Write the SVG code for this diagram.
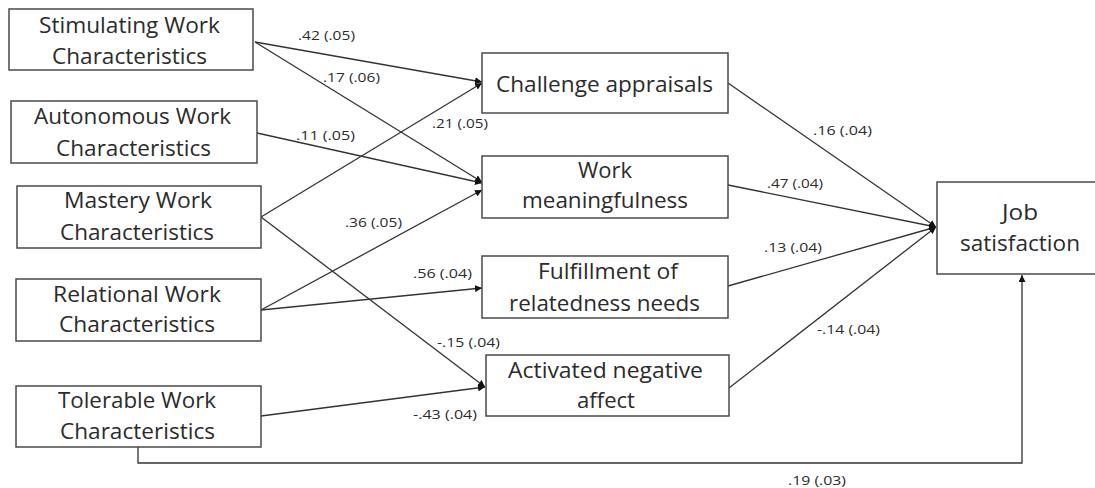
<svg xmlns="http://www.w3.org/2000/svg" width="1095" height="488" viewBox="0 0 1095 488">
<style>
.box{fill:#fff;stroke:#4a4a4a;stroke-width:1.5}
.nt{font-family:"Open Sans","Noto Sans","DejaVu Sans",sans-serif;font-size:21px;fill:#2b2b2b}
.lb{font-family:"Open Sans","Noto Sans","DejaVu Sans",sans-serif;font-size:13.5px;fill:#2b2b2b}
.ln{fill:none;stroke:#333;stroke-width:1.3}
</style>
<defs>
<marker id="ah" markerUnits="userSpaceOnUse" markerWidth="8" markerHeight="7" refX="7" refY="3.5" orient="auto">
<path d="M0,0 L7,3.5 L0,7 z" fill="#111"/>
</marker>
</defs>
<rect width="1095" height="488" fill="#fff"/>
<g id="connectors">
<path class="ln" d="M255,42 L482,82" marker-end="url(#ah)"/>
<path class="ln" d="M255,42 L482,182" marker-end="url(#ah)"/>
<path class="ln" d="M257,133 L482,183" marker-end="url(#ah)"/>
<path class="ln" d="M261,217 L482,83" marker-end="url(#ah)"/>
<path class="ln" d="M261,217 L485,387" marker-end="url(#ah)"/>
<path class="ln" d="M261,310 L482,190" marker-end="url(#ah)"/>
<path class="ln" d="M261,310 L482,288" marker-end="url(#ah)"/>
<path class="ln" d="M261,416 L485,387" marker-end="url(#ah)"/>
<path class="ln" d="M728,83 L936,227" marker-end="url(#ah)"/>
<path class="ln" d="M728,185 L936,227" marker-end="url(#ah)"/>
<path class="ln" d="M728,286 L936,227" marker-end="url(#ah)"/>
<path class="ln" d="M729,388 L936,227" marker-end="url(#ah)"/>
<path class="ln" d="M138,447 L138,463 L1022,463 L1022,275" marker-end="url(#ah)"/>
</g>
<g id="labels">
<text class="lb" x="298" y="40" textLength="57" lengthAdjust="spacingAndGlyphs">.42 (.05)</text>
<text class="lb" x="323" y="82" textLength="57" lengthAdjust="spacingAndGlyphs">.17 (.06)</text>
<text class="lb" x="432" y="128" textLength="56" lengthAdjust="spacingAndGlyphs">.21 (.05)</text>
<text class="lb" x="296" y="140" textLength="59" lengthAdjust="spacingAndGlyphs">.11 (.05)</text>
<text class="lb" x="345" y="227" textLength="57" lengthAdjust="spacingAndGlyphs">.36 (.05)</text>
<text class="lb" x="413" y="278" textLength="59" lengthAdjust="spacingAndGlyphs">.56 (.04)</text>
<text class="lb" x="437" y="347" textLength="63" lengthAdjust="spacingAndGlyphs">-.15 (.04)</text>
<text class="lb" x="413" y="419" textLength="64" lengthAdjust="spacingAndGlyphs">-.43 (.04)</text>
<text class="lb" x="813" y="135" textLength="59" lengthAdjust="spacingAndGlyphs">.16 (.04)</text>
<text class="lb" x="767" y="188" textLength="56" lengthAdjust="spacingAndGlyphs">.47 (.04)</text>
<text class="lb" x="764" y="252" textLength="58" lengthAdjust="spacingAndGlyphs">.13 (.04)</text>
<text class="lb" x="817" y="334" textLength="63" lengthAdjust="spacingAndGlyphs">-.14 (.04)</text>
<text class="lb" x="788" y="485" textLength="58" lengthAdjust="spacingAndGlyphs">.19 (.03)</text>
</g>
<g id="stimulating">
<rect class="box" x="9" y="9" width="244" height="61"/>
<text class="nt" x="39" y="33" textLength="181" lengthAdjust="spacingAndGlyphs">Stimulating Work</text>
<text class="nt" x="52" y="64" textLength="155" lengthAdjust="spacingAndGlyphs">Characteristics</text>
</g>
<g id="autonomous">
<rect class="box" x="11" y="101" width="246" height="62"/>
<text class="nt" x="34" y="124" textLength="197" lengthAdjust="spacingAndGlyphs">Autonomous Work</text>
<text class="nt" x="56" y="156" textLength="155" lengthAdjust="spacingAndGlyphs">Characteristics</text>
</g>
<g id="mastery">
<rect class="box" x="17" y="186" width="244" height="62"/>
<text class="nt" x="64" y="208" textLength="148" lengthAdjust="spacingAndGlyphs">Mastery Work</text>
<text class="nt" x="60" y="240" textLength="154" lengthAdjust="spacingAndGlyphs">Characteristics</text>
</g>
<g id="relational">
<rect class="box" x="16" y="279" width="245" height="62"/>
<text class="nt" x="53" y="302" textLength="168" lengthAdjust="spacingAndGlyphs">Relational Work</text>
<text class="nt" x="59" y="332" textLength="156" lengthAdjust="spacingAndGlyphs">Characteristics</text>
</g>
<g id="tolerable">
<rect class="box" x="16" y="386" width="245" height="61"/>
<text class="nt" x="58" y="408" textLength="158" lengthAdjust="spacingAndGlyphs">Tolerable Work</text>
<text class="nt" x="60" y="439" textLength="155" lengthAdjust="spacingAndGlyphs">Characteristics</text>
</g>
<g id="challenge">
<rect class="box" x="482" y="53" width="246" height="60"/>
<text class="nt" x="496" y="92" textLength="217" lengthAdjust="spacingAndGlyphs">Challenge appraisals</text>
</g>
<g id="meaningfulness">
<rect class="box" x="482" y="156" width="246" height="62"/>
<text class="nt" x="578" y="178" textLength="54" lengthAdjust="spacingAndGlyphs">Work</text>
<text class="nt" x="522" y="208" textLength="166" lengthAdjust="spacingAndGlyphs">meaningfulness</text>
</g>
<g id="fulfillment">
<rect class="box" x="482" y="256" width="246" height="62"/>
<text class="nt" x="538" y="279" textLength="140" lengthAdjust="spacingAndGlyphs">Fulfillment of</text>
<text class="nt" x="509" y="311" textLength="191" lengthAdjust="spacingAndGlyphs">relatedness needs</text>
</g>
<g id="negative">
<rect class="box" x="486" y="355" width="243" height="61"/>
<text class="nt" x="508" y="378" textLength="195" lengthAdjust="spacingAndGlyphs">Activated negative</text>
<text class="nt" x="577" y="408" textLength="58" lengthAdjust="spacingAndGlyphs">affect</text>
</g>
<g id="job">
<rect class="box" x="937" y="182" width="162" height="92"/>
<text class="nt" x="1002" y="220" textLength="36" lengthAdjust="spacingAndGlyphs">Job</text>
<text class="nt" x="960" y="251" textLength="120" lengthAdjust="spacingAndGlyphs">satisfaction</text>
</g>
</svg>
